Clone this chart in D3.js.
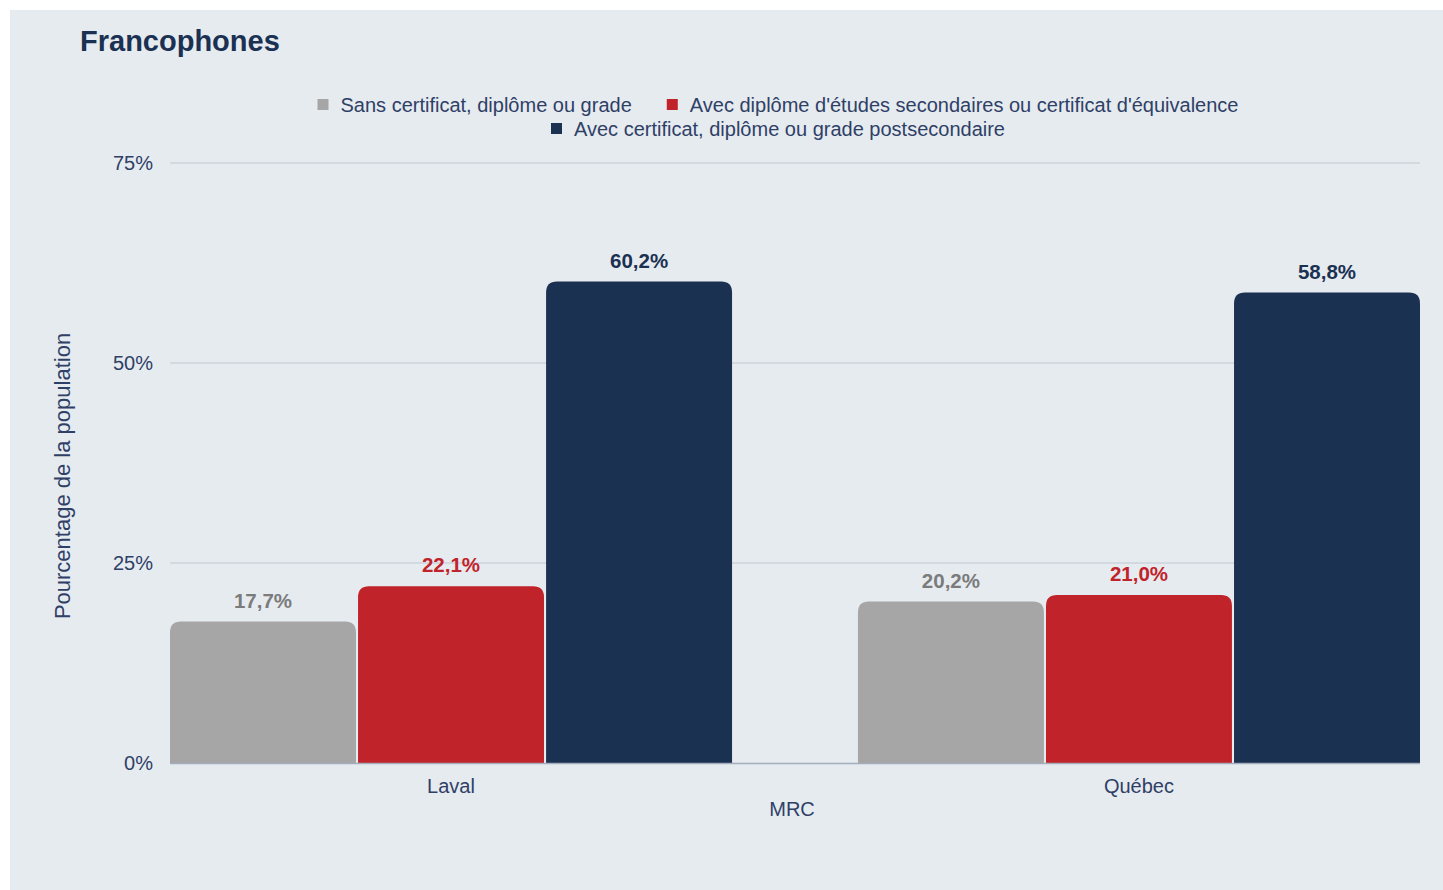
<!DOCTYPE html>
<html><head><meta charset="utf-8">
<script src="https://cdn.jsdelivr.net/npm/d3@7"></script>
<style>
html,body{margin:0;padding:0;background:#fff;}
svg{display:block;font-family:"Liberation Sans",Arial,Helvetica,sans-serif;}
</style></head>
<body>
<svg id="chart" width="1443" height="890"></svg>
<script>
const categories = ["Laval", "Québec"];
const seriesNames = ["Sans certificat, diplôme ou grade", "Avec diplôme d'études secondaires ou certificat d'équivalence", "Avec certificat, diplôme ou grade postsecondaire"];
const sansValues = [17.7, 20.2];
const secondaireValues = [22.1, 21.0];
const postsecValues = [60.2, 58.8];
const yTicks = [0, 25, 50, 75];
const colors = ["#a6a6a6", "#c1232a", "#1b3152"];
const labelColors = ["#7b7b7b", "#c1232a", "#1b3152"];

const series = [sansValues, secondaireValues, postsecValues];
const svg = d3.select("#chart");
const W = 1443, H = 890;
const textColor = "#2f4066";
svg.append("rect").attr("x",10).attr("y",10).attr("width",W-10).attr("height",H-10).attr("fill","#e6ebf0");

const m = {left:170, right:1420, top:163, bottom:763};
const y = d3.scaleLinear().domain([0,75]).range([m.bottom, m.top]);
const x0 = d3.scaleBand().domain(categories).range([m.left, m.right]).paddingInner(0.183).paddingOuter(0);
const x1 = d3.scaleBand().domain(d3.range(series.length)).range([0, x0.bandwidth()]).paddingInner(0.011);

svg.append("text").attr("x",80).attr("y",51).attr("font-size",29).attr("font-weight","bold").attr("fill","#1b3152").text("Francophones");

// y axis + grid
const yAxis = d3.axisLeft(y).tickValues(yTicks).tickFormat(d=>d+"%").tickSize(0).tickPadding(17);
const gy = svg.append("g").attr("transform",`translate(${m.left},0)`).call(yAxis);
gy.select(".domain").remove();
gy.selectAll("text").attr("font-size",20).attr("fill",textColor).attr("font-family","Liberation Sans, Arial, sans-serif");
svg.append("g").selectAll("line").data(yTicks.filter(d=>d>0)).join("line")
  .attr("x1",m.left).attr("x2",m.right).attr("y1",d=>y(d)).attr("y2",d=>y(d))
  .attr("stroke","#cdd3db").attr("stroke-width",1.5);

// bars
const r = 11;
function topRounded(x, yTop, w, h, rad){
  rad = Math.min(rad, h, w/2);
  return `M${x},${yTop+h}V${yTop+rad}Q${x},${yTop} ${x+rad},${yTop}H${x+w-rad}Q${x+w},${yTop} ${x+w},${yTop+rad}V${yTop+h}Z`;
}
categories.forEach((c,ci)=>{
  series.forEach((vals,si)=>{
    const bx = x0(c)+x1(si), bw = x1.bandwidth();
    const v = vals[ci];
    svg.append("path").attr("d", topRounded(bx, y(v), bw, y(0)-y(v), r)).attr("fill", colors[si]);
    svg.append("text").attr("x", bx+bw/2).attr("y", y(v)-21).attr("dy","0.35em").attr("text-anchor","middle")
      .attr("font-size",20.5).attr("font-weight","bold").attr("fill",labelColors[si])
      .text(v.toFixed(1).replace(".",",")+"%");
  });
});
// baseline
svg.append("line").attr("x1",m.left).attr("x2",m.right).attr("y1",y(0)+0.5).attr("y2",y(0)+0.5).attr("stroke","#a3adbb").attr("stroke-width",1.5);

// x axis
const xAxis = d3.axisBottom(x0).tickSize(0).tickPadding(16);
const gx = svg.append("g").attr("transform",`translate(0,${m.bottom})`).call(xAxis);
gx.select(".domain").remove();
gx.selectAll("text").attr("font-size",20).attr("fill",textColor).attr("font-family","Liberation Sans, Arial, sans-serif");

svg.append("text").attr("x",792).attr("y",816).attr("text-anchor","middle").attr("font-size",20).attr("fill",textColor).text("MRC");
svg.append("text").attr("transform","translate(70,476) rotate(-90)").attr("text-anchor","middle").attr("font-size",22).attr("fill",textColor).text("Pourcentage de la population");

// legend
const legRows = [[0,1],[2]];
const legY = [105, 129];
legRows.forEach((row,ri)=>{
  const g = svg.append("g");
  let xPos = 0;
  row.forEach(si=>{
    const item = g.append("g").attr("transform",`translate(${xPos},0)`);
    item.append("rect").attr("x",0).attr("y",-6).attr("width",11).attr("height",11).attr("fill",colors[si]);
    const t = item.append("text").attr("x",23).attr("y",0).attr("dy","0.35em").attr("font-size",20).attr("fill",textColor).text(seriesNames[si]);
    xPos += 23 + t.node().getComputedTextLength() + 35;
  });
  const total = xPos - 35;
  g.attr("transform",`translate(${778 - total/2},${legY[ri]})`);
});
</script>
</body></html>
